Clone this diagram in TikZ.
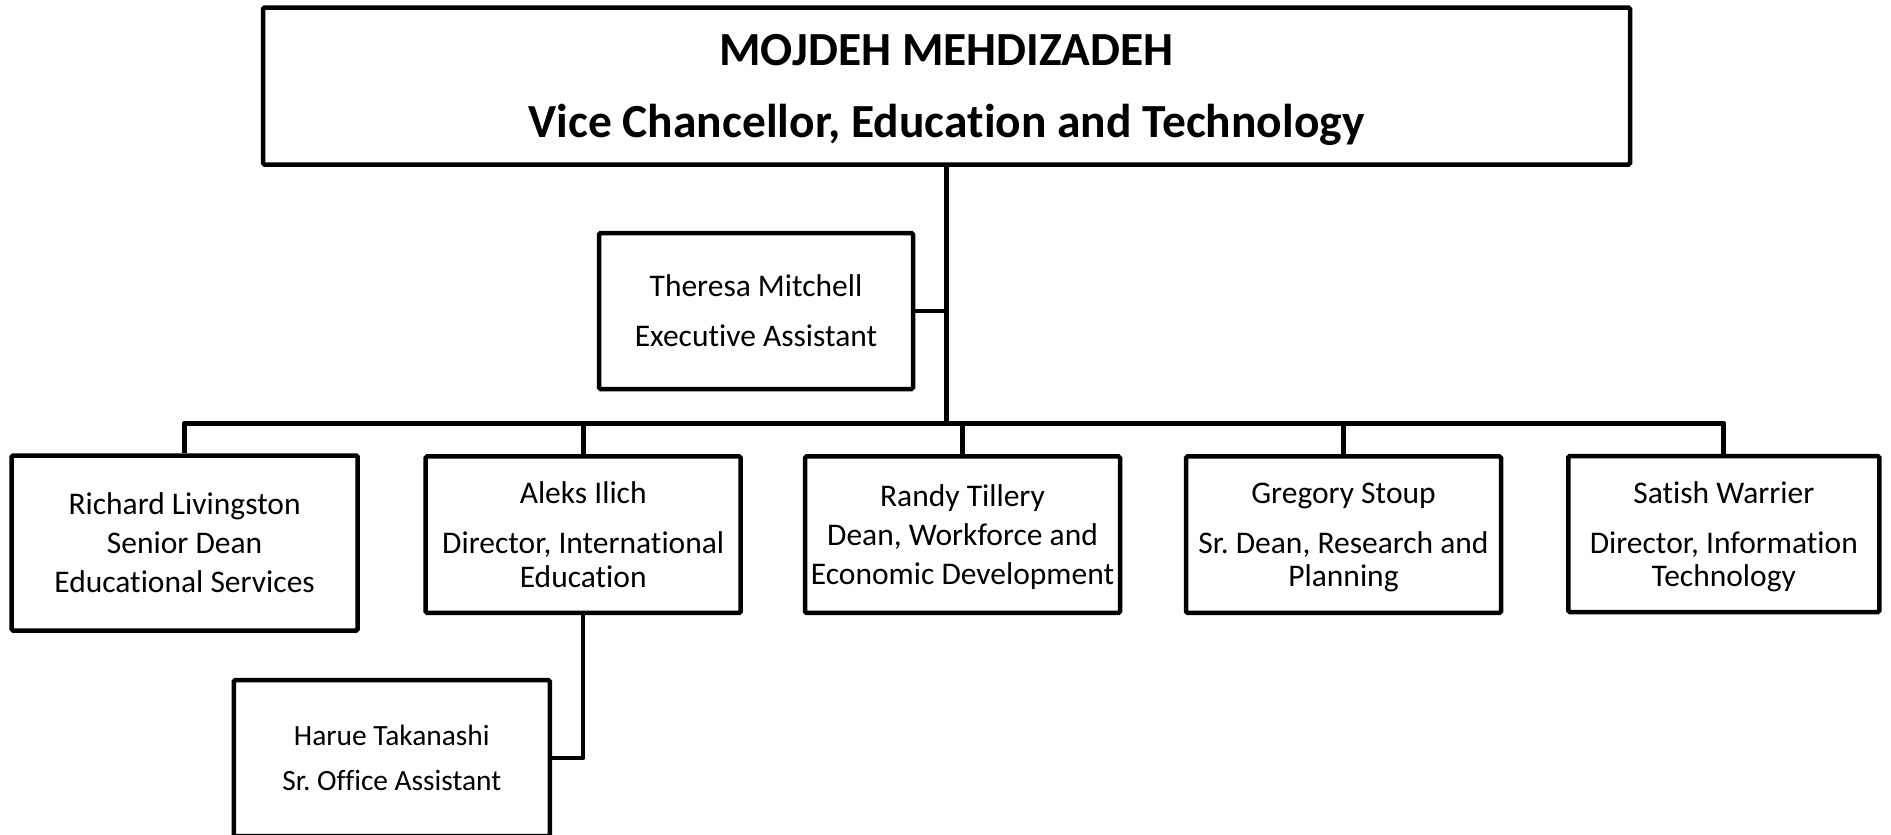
\documentclass[tikz,border=0pt]{standalone}
\usepackage{fontspec}
\setmainfont{Carlito}[Ligatures={NoCommon}]
\frenchspacing
\begin{document}
\begin{tikzpicture}[x=1pt,y=-1pt,
  box/.style={draw, line width=4.5pt, rounded corners=1.5pt, inner sep=0pt,
    align=center, text depth=0pt, font=\fontsize{31.5}{39}\selectfont},
  link/.style={line width=5pt, line join=round},
  thinlink/.style={line width=4.5pt, line join=round}]
\useasboundingbox (0,0) rectangle (1891,835);

\node[box, minimum width=1367pt, minimum height=157pt,
  font=\bfseries\fontsize{47.5}{72}\selectfont] (vc) at (946.5,86)
  {MOJDEH MEHDIZADEH\\Vice Chancellor, Education and Technology};

\node[box, minimum width=314pt, minimum height=156pt,
  font=\fontsize{31.5}{50}\selectfont] (tm) at (756,311)
  {Theresa Mitchell\\Executive Assistant};

\node[box, minimum width=346pt, minimum height=175pt] (rl) at (184.6,543)
  {Richard Livingston\\Senior Dean\\Educational Services};

\node[box, minimum width=315pt, minimum height=156.5pt,
  font=\fontsize{31.5}{33.5}\selectfont] (ai) at (583.2,534.7)
  {Aleks Ilich\\[16.5pt]Director, International\\Education};

\node[box, minimum width=315pt, minimum height=156.5pt] (rt) at (962.5,534.7)
  {Randy Tillery\\Dean, Workforce and\\Economic Development};

\node[box, minimum width=315pt, minimum height=156.5pt,
  font=\fontsize{31.5}{33.5}\selectfont] (gs) at (1343.5,534.7)
  {Gregory Stoup\\[16.5pt]Sr. Dean, Research and\\Planning};

\node[box, minimum width=311pt, minimum height=156pt,
  font=\fontsize{31.5}{33.5}\selectfont] (sw) at (1723.8,534)
  {Satish Warrier\\[16.5pt]Director, Information\\Technology};

\node[box, minimum width=316pt, minimum height=156pt,
  font=\fontsize{29.4}{45}\selectfont] (ht) at (391.8,758)
  {Harue Takanashi\\Sr. Office Assistant};

\coordinate (j) at (946.5,423);
\draw[link] (vc.south) -- (j);
\draw[thinlink] (tm.east) -- (tm.east -| j);
\draw[link] (rl.north) |- (j) -| (sw.north);
\draw[link] (ai.north) -- (ai.north |- j);
\draw[link] (rt.north) -- (rt.north |- j);
\draw[link] (gs.north) -- (gs.north |- j);
\draw[thinlink] (ai.south) |- (ht.east);
\end{tikzpicture}
\end{document}
